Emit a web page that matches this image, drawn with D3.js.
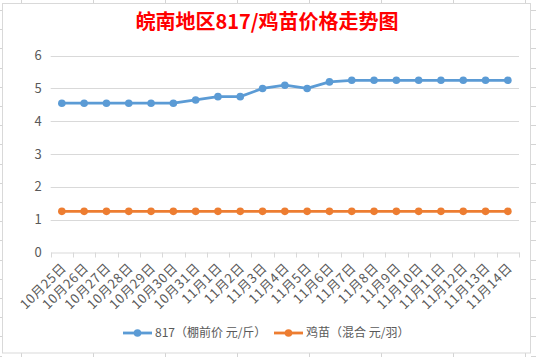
<!DOCTYPE html>
<html><head><meta charset="utf-8">
<script src="https://cdn.jsdelivr.net/npm/d3@7"></script>
<style>
html,body{margin:0;padding:0;background:#fff;}
svg{display:block;}
text{font-family:"Noto Sans CJK SC","Noto Sans",sans-serif;}
</style></head>
<body>
<svg id="c" width="536" height="357"></svg>
<script>
const categories = ["10月25日","10月26日","10月27日","10月28日","10月29日","10月30日","10月31日","11月1日","11月2日","11月3日","11月4日","11月5日","11月6日","11月7日","11月8日","11月9日","11月10日","11月11日","11月12日","11月13日","11月14日"];
const series817 = [4.55,4.55,4.55,4.55,4.55,4.55,4.65,4.75,4.75,5.0,5.1,5.0,5.2,5.25,5.25,5.25,5.25,5.25,5.25,5.25,5.25];
const seriesChick = [1.25,1.25,1.25,1.25,1.25,1.25,1.25,1.25,1.25,1.25,1.25,1.25,1.25,1.25,1.25,1.25,1.25,1.25,1.25,1.25,1.25];
const seriesNames = ["817（棚前价 元/斤）","鸡苗（混合 元/羽）"];
const yTicks = [0,1,2,3,4,5,6];
const title = "皖南地区817/鸡苗价格走势图";

const svg = d3.select("#c");

// spreadsheet background lines outside chart
const sheet = svg.append("g").attr("stroke","#d4d4d4").attr("stroke-width",1);
d3.range(21, 536, 72).forEach(x => {
  sheet.append("line").attr("x1",x+0.5).attr("x2",x+0.5).attr("y1",0).attr("y2",3);
  sheet.append("line").attr("x1",x+0.5).attr("x2",x+0.5).attr("y1",353).attr("y2",357);
});
d3.range(10, 357, 19.2).forEach(y => {
  const yy = Math.round(y)+0.5;
  sheet.append("line").attr("x1",0).attr("x2",2).attr("y1",yy).attr("y2",yy);
  sheet.append("line").attr("x1",531).attr("x2",536).attr("y1",yy).attr("y2",yy);
});
// chart border
svg.append("rect").attr("x",2.5).attr("y",3.5).attr("width",528).attr("height",349.5)
  .attr("fill","#fff").attr("stroke","#d9d9d9");

const x = d3.scaleBand().domain(categories).range([50.7, 519]);
const y = d3.scaleLinear().domain([0,6]).range([252.3, 55.7]);

// title
svg.append("text").attr("x",267).attr("y",29).attr("text-anchor","middle")
  .attr("fill","#ff0000").attr("font-size",20).attr("font-weight","bold").text(title);

// gridlines
svg.append("g").selectAll("line").data(yTicks.filter(d=>d>0)).join("line")
  .attr("x1",50.7).attr("x2",519)
  .attr("y1",d=>Math.round(y(d))+0.5).attr("y2",d=>Math.round(y(d))+0.5)
  .attr("stroke","#d9d9d9").attr("stroke-width",1);

// y axis labels
const yAxis = d3.axisLeft(y).tickValues(yTicks).tickFormat(d3.format("d")).tickSize(0).tickPadding(9);
const yg = svg.append("g").attr("transform","translate(50.7,0)").call(yAxis);
yg.select(".domain").remove();
yg.selectAll("text").attr("fill","#595959").attr("font-size",13)
  .attr("font-family","'Open Sans','Noto Sans',sans-serif");

// x axis
const xAxis = d3.axisBottom(x).tickSizeOuter(0).tickSize(0);
const xg = svg.append("g").attr("transform",`translate(0,${Math.round(y(0))+0.5})`).call(xAxis);
xg.select(".domain").attr("stroke","#d9d9d9");
xg.selectAll(".tick line").remove();
const bounds = categories.map(c=>x(c)).concat([519]);
xg.selectAll(".bt").data(bounds).join("line").attr("class","bt")
  .attr("x1",d=>Math.round(d)+0.5).attr("x2",d=>Math.round(d)+0.5).attr("y1",0).attr("y2",5)
  .attr("stroke","#d9d9d9");
xg.selectAll(".tick text")
  .attr("fill","#595959").attr("font-size",13)
  .attr("letter-spacing","0.6px")
  .attr("text-anchor","end")
  .attr("dy","0.35em").attr("y",0).attr("x",0)
  .attr("transform","translate(2,13) rotate(-45)");

// lines
const line = d3.line().x((d,i)=>x(categories[i])+x.bandwidth()/2).y(d=>y(d));
const colors = ["#5b9bd5","#ed7d31"];
[series817, seriesChick].forEach((s,k)=>{
  svg.append("path").datum(s).attr("d",line).attr("fill","none")
    .attr("stroke",colors[k]).attr("stroke-width",2.8).attr("stroke-linejoin","round");
  svg.append("g").selectAll("circle").data(s).join("circle")
    .attr("cx",(d,i)=>x(categories[i])+x.bandwidth()/2).attr("cy",d=>y(d)).attr("r",3.8)
    .attr("fill",colors[k]);
});

// legend
const legX = [123, 274];
seriesNames.forEach((n,k)=>{
  const g = svg.append("g").attr("transform",`translate(${legX[k]},333)`);
  g.append("line").attr("x1",0).attr("x2",29).attr("y1",0).attr("y2",0)
    .attr("stroke",colors[k]).attr("stroke-width",2.8);
  g.append("circle").attr("cx",14.5).attr("cy",0).attr("r",3.8).attr("fill",colors[k]);
  g.append("text").attr("x",32).attr("y",0).attr("dy","0.35em").attr("font-size",12)
    .attr("fill","#595959").text(n);
});
</script>
</body></html>
